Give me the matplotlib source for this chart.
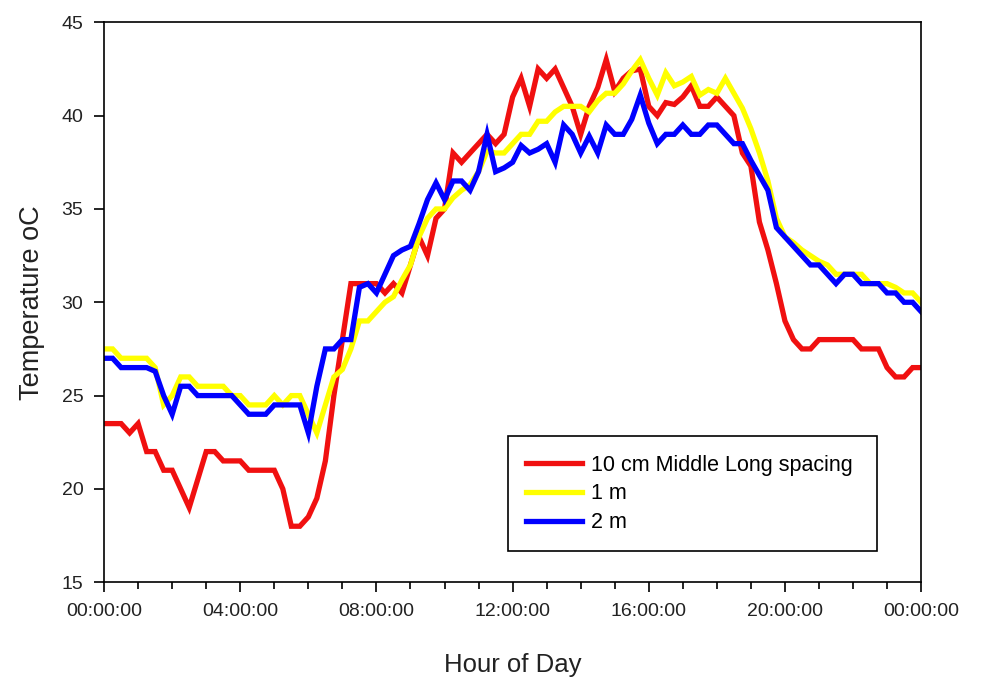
import numpy as np
import matplotlib
matplotlib.use("Agg")
import matplotlib.pyplot as plt
from matplotlib.ticker import MultipleLocator

plt.rcParams['font.family'] = ['Liberation Sans', 'DejaVu Sans']

# 15 minute readings over one day
hours = np.arange(0, 24.01, 0.25)

temp_10cm = [23.5, 23.5, 23.5, 23.0, 23.5, 22.0, 22.0, 21.0, 21.0, 20.0,
             19.0, 20.5, 22.0, 22.0, 21.5, 21.5, 21.5, 21.0, 21.0, 21.0,
             21.0, 20.0, 18.0, 18.0, 18.5, 19.5, 21.5, 25.0, 28.0, 31.0,
             31.0, 31.0, 31.0, 30.5, 31.0, 30.5, 32.0, 33.5, 32.5, 34.5,
             35.0, 38.0, 37.5, 38.0, 38.5, 39.0, 38.5, 39.0, 41.0, 42.0,
             40.5, 42.5, 42.0, 42.5, 41.5, 40.5, 39.0, 40.5, 41.5, 43.0,
             41.3, 42.0, 42.4, 42.5, 40.5, 40.0, 40.7, 40.6, 41.0, 41.6,
             40.5, 40.5, 41.0, 40.5, 40.0, 38.0, 37.3, 34.3, 32.8, 31.0,
             29.0, 28.0, 27.5, 27.5, 28.0, 28.0, 28.0, 28.0, 28.0, 27.5,
             27.5, 27.5, 26.5, 26.0, 26.0, 26.5, 26.5]

temp_1m = [27.5, 27.5, 27.0, 27.0, 27.0, 27.0, 26.5, 24.5, 25.0, 26.0,
           26.0, 25.5, 25.5, 25.5, 25.5, 25.0, 25.0, 24.5, 24.5, 24.5,
           25.0, 24.5, 25.0, 25.0, 24.0, 23.0, 24.5, 26.0, 26.4, 27.5,
           29.0, 29.0, 29.5, 30.0, 30.3, 31.2, 32.0, 33.5, 34.5, 35.0,
           35.0, 35.6, 36.0, 36.3, 37.0, 38.1, 38.0, 38.0, 38.5, 39.0,
           39.0, 39.7, 39.7, 40.2, 40.5, 40.5, 40.5, 40.2, 40.8, 41.2,
           41.2, 41.7, 42.4, 43.0, 42.0, 41.1, 42.3, 41.6, 41.8, 42.1,
           41.1, 41.4, 41.2, 42.0, 41.2, 40.4, 39.3, 38.0, 36.5, 34.5,
           33.5, 33.2, 32.8, 32.5, 32.2, 32.0, 31.5, 31.5, 31.5, 31.5,
           31.0, 31.0, 31.0, 30.8, 30.5, 30.5, 30.0]

temp_2m = [27.0, 27.0, 26.5, 26.5, 26.5, 26.5, 26.3, 25.0, 24.0, 25.5,
           25.5, 25.0, 25.0, 25.0, 25.0, 25.0, 24.5, 24.0, 24.0, 24.0,
           24.5, 24.5, 24.5, 24.5, 23.0, 25.5, 27.5, 27.5, 28.0, 28.0,
           30.8, 31.0, 30.5, 31.5, 32.5, 32.8, 33.0, 34.2, 35.5, 36.4,
           35.5, 36.5, 36.5, 36.0, 37.0, 39.0, 37.0, 37.2, 37.5, 38.4,
           38.0, 38.2, 38.5, 37.5, 39.5, 39.0, 38.0, 38.9, 38.0, 39.5,
           39.0, 39.0, 39.8, 41.1, 39.6, 38.5, 39.0, 39.0, 39.5, 39.0,
           39.0, 39.5, 39.5, 39.0, 38.5, 38.5, 37.6, 36.8, 36.0, 34.0,
           33.5, 33.0, 32.5, 32.0, 32.0, 31.5, 31.0, 31.5, 31.5, 31.0,
           31.0, 31.0, 30.5, 30.5, 30.0, 30.0, 29.5]

series_labels = ['10 cm Middle Long spacing', '1 m', '2 m']
series_colors = ['#f01010', '#ffff00', '#0000ff']
xtick_labels = ['00:00:00', '04:00:00', '08:00:00', '12:00:00',
                '16:00:00', '20:00:00', '00:00:00']

fig = plt.figure(figsize=(9.82, 6.77), dpi=100)
ax = fig.add_axes([0.106, 0.140, 0.832, 0.827])

for temps, lab, col in zip([temp_10cm, temp_1m, temp_2m], series_labels, series_colors):
    ax.plot(hours, temps, color=col, lw=3.8, label=lab, solid_joinstyle='miter')

ax.set_xlim(0, 24)
ax.set_ylim(15, 45)
ax.set_xticks(np.arange(0, 25, 4))
ax.set_xticklabels(xtick_labels)
ax.xaxis.set_minor_locator(MultipleLocator(1))
ax.set_yticks(np.arange(15, 46, 5))

ax.tick_params(axis='both', which='major', direction='out', length=7, width=1.2,
               labelsize=14, labelcolor='#222222')
ax.tick_params(axis='x', which='major', pad=8)
ax.tick_params(axis='y', which='major', pad=8)
ax.tick_params(axis='x', which='minor', direction='out', length=5, width=1.2)
for sp in ax.spines.values():
    sp.set_linewidth(1.2)

ax.set_xlabel('Hour of Day', fontsize=18.5, color='#222222', labelpad=24)
ax.set_ylabel('Temperature oC', fontsize=19.5, color='#222222', labelpad=12)

leg = ax.legend(loc='lower left', bbox_to_anchor=(0.494, 0.055, 0.452, 0.3),
                mode='expand', fontsize=15.5, fancybox=False, framealpha=1,
                edgecolor='black', handlelength=2.6, handletextpad=0.4,
                borderpad=0.85, labelspacing=0.36, borderaxespad=0)
leg.get_frame().set_linewidth(1.2)

fig.savefig('out.png', dpi=100)
